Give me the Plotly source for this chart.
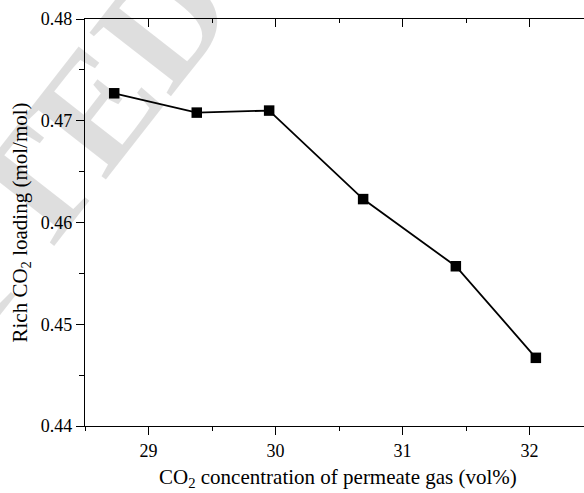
import plotly.graph_objects as go

# CO2 concentration of permeate gas (vol%) and rich CO2 loading (mol/mol)
co2_permeate = [28.73, 29.38, 29.95, 30.69, 31.42, 32.05]
rich_loading = [0.4727, 0.4708, 0.4710, 0.4623, 0.4557, 0.4467]

x_ticks = [29, 30, 31, 32]
y_ticks = [0.44, 0.45, 0.46, 0.47, 0.48]

FONT = "Liberation Serif, Times New Roman, serif"
W, H = 584, 493
M_L, M_R, M_T, M_B = 85, 0, 19, 67
X_RANGE = [28.5, 28.5 + (W - M_L - M_R) / 127.0]
Y_RANGE = [0.44, 0.48]

fig = go.Figure()
fig.add_trace(go.Scatter(
    x=co2_permeate, y=rich_loading,
    mode="lines+markers",
    line=dict(color="black", width=1.8),
    marker=dict(symbol="square", size=10.5, color="black"),
    showlegend=False, cliponaxis=False,
))

axis_common = dict(
    showgrid=False, zeroline=False, showline=True,
    linecolor="black", linewidth=1.3, tickcolor="black", tickwidth=1.2,
    tickfont=dict(family=FONT, size=18, color="black"),
)

fig.update_layout(
    width=W, height=H,
    margin=dict(l=M_L, r=M_R, t=M_T, b=M_B, pad=0),
    paper_bgcolor="white", plot_bgcolor="white",
    font=dict(family=FONT, color="black"),
    xaxis=dict(
        range=X_RANGE, tickvals=x_ticks, ticks="outside", ticklen=8,
        minor=dict(dtick=0.5, tick0=28.5, ticks="outside", ticklen=4,
                   tickcolor="black", tickwidth=1.2),
        **axis_common,
    ),
    xaxis2=dict(
        range=X_RANGE, overlaying="x", side="top", anchor="y",
        tickvals=x_ticks, ticks="inside", ticklen=8, showticklabels=False,
        minor=dict(dtick=0.5, tick0=28.5, ticks="inside", ticklen=4,
                   tickcolor="black", tickwidth=1.2),
        **axis_common,
    ),
    yaxis=dict(
        range=Y_RANGE, tickvals=y_ticks, ticktext=[f"{v:.2f}" for v in y_ticks],
        ticks="outside", ticklen=8,
        minor=dict(dtick=0.005, tick0=0.44, ticks="outside", ticklen=5,
                   tickcolor="black", tickwidth=1.2),
        **axis_common,
    ),
)

# keep the top axis drawn
fig.add_trace(go.Scatter(x=[co2_permeate[0]], y=[rich_loading[0]], xaxis="x2",
                         mode="markers", marker=dict(opacity=0),
                         showlegend=False, hoverinfo="skip"))

annotations = [
    # watermark
    dict(text="<b>ACCEPTED</b>", xref="paper", yref="paper", x=-0.312, y=0.265,
         showarrow=False, textangle=-52,
         font=dict(family=FONT, size=158, color="rgba(0,0,0,0.13)"),
         xanchor="center", yanchor="middle"),
    dict(text="CO<sub>2</sub> concentration of permeate gas (vol%)",
         xref="paper", yref="paper", x=(338 - M_L) / (W - M_L), y=-(478 - (H - M_B)) / (H - M_T - M_B),
         showarrow=False, xanchor="center", yanchor="middle",
         font=dict(family=FONT, size=21, color="black")),
    dict(text="Rich CO<sub>2</sub> loading (mol/mol)",
         xref="paper", yref="paper", x=-(M_L - 20) / (W - M_L), y=0.5,
         showarrow=False, textangle=-90, xanchor="center", yanchor="middle",
         font=dict(family=FONT, size=21, color="black")),
]
fig.update_layout(annotations=annotations)

fig.write_html("out.html")
